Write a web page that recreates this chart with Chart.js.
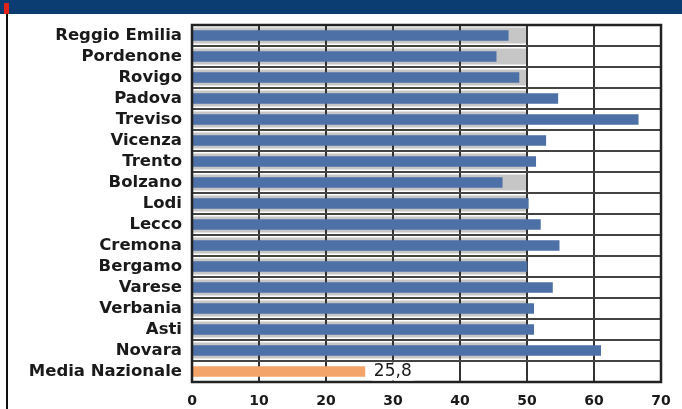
<!DOCTYPE html>
<html>
<head>
<meta charset="utf-8">
<script src="https://cdn.jsdelivr.net/npm/chart.js@4/dist/chart.umd.min.js"></script>
<style>
  html, body { margin: 0; padding: 0; background: #ffffff; }
  #wrap { width: 682px; height: 409px; position: relative; }
</style>
</head>
<body>
<div id="wrap"><canvas id="c" width="682" height="409"></canvas></div>
<script>
const categories = ["Reggio Emilia","Pordenone","Rovigo","Padova","Treviso","Vicenza","Trento","Bolzano","Lodi","Lecco","Cremona","Bergamo","Varese","Verbania","Asti","Novara","Media Nazionale"];
const values = [47.2,45.4,48.8,54.6,66.6,52.8,51.3,46.3,50.2,52.0,54.8,50.0,53.8,51.0,51.0,61.0,25.8];
const highlightLabel = "25,8";
const xTicks = [0,10,20,30,40,50,60,70];

const BLUE = "#4d71a6";
const ORANGE = "#f2a469";
const colors = categories.map((c, i) => i === categories.length - 1 ? ORANGE : BLUE);

const decor = {
  id: "decor",
  beforeDraw(chart) {
    const ctx = chart.ctx;
    const x = chart.scales.x, y = chart.scales.y;
    ctx.save();
    ctx.fillStyle = "#ffffff";
    ctx.fillRect(0, 0, chart.width, chart.height);
    // header band
    ctx.fillStyle = "#0c3d72";
    ctx.fillRect(0, 0, chart.width, 14);
    ctx.fillStyle = "#e0231c";
    ctx.fillRect(4, 3, 5, 11);
    // left rule
    ctx.fillStyle = "#111111";
    ctx.fillRect(6, 14, 2, chart.height - 14);
    // grey shading behind bars
    ctx.fillStyle = "#c6c6c6";
    const x0 = x.getPixelForValue(0), x50 = x.getPixelForValue(50);
    for (let i = 0; i < categories.length - 1; i++) {
      const cy = y.getPixelForValue(i);
      ctx.fillRect(x0, cy - 8, x50 - x0, 16);
    }
    ctx.restore();
  },
  afterDatasetsDraw(chart) {
    const ctx = chart.ctx;
    const x = chart.scales.x, y = chart.scales.y;
    const a = chart.chartArea;
    ctx.save();
    // border
    ctx.strokeStyle = "#222222";
    ctx.lineWidth = 2.5;
    ctx.strokeRect(a.left, a.top, a.right - a.left, a.bottom - a.top);
    // data label for last bar
    const i = categories.length - 1;
    const px = x.getPixelForValue(values[i]) + 9;
    const py = y.getPixelForValue(i);
    ctx.font = "17px 'DejaVu Sans'";
    ctx.fillStyle = "#ffffff";
    const w = ctx.measureText(highlightLabel).width;
    ctx.fillRect(px - 2, py - 9, w + 4, 18);
    ctx.fillStyle = "#1a1a1a";
    ctx.textBaseline = "middle";
    ctx.fillText(highlightLabel, px, py);
    ctx.restore();
  }
};

new Chart(document.getElementById("c"), {
  type: "bar",
  data: {
    labels: categories,
    datasets: [{
      data: values,
      backgroundColor: colors,
      barThickness: 10,
      borderWidth: 0
    }]
  },
  options: {
    indexAxis: "y",
    responsive: false,
    animation: false,
    devicePixelRatio: 1,
    layout: { padding: { top: 25, right: 21, bottom: 0, left: 0 } },
    plugins: { legend: { display: false }, tooltip: { enabled: false } },
    scales: {
      x: {
        min: 0, max: 70,
        afterBuildTicks(scale) { scale.ticks = xTicks.map(v => ({ value: v })); },
        afterFit(scale) { scale.height = 27; },
        grid: { color: "#333333", lineWidth: 2, drawTicks: false },
        border: { display: false },
        ticks: {
          padding: 11,
          color: "#1a1a1a",
          font: { family: "DejaVu Sans", size: 14, weight: "bold" }
        }
      },
      y: {
        afterFit(scale) { scale.width = 192; },
        grid: { color: "#444444", lineWidth: 2, drawTicks: false, offset: true },
        border: { display: false },
        ticks: {
          padding: 10,
          color: "#1a1a1a",
          autoSkip: false,
          font: { family: "DejaVu Sans", size: 16.5, weight: "bold" }
        }
      }
    }
  },
  plugins: [decor]
});
</script>
</body>
</html>
